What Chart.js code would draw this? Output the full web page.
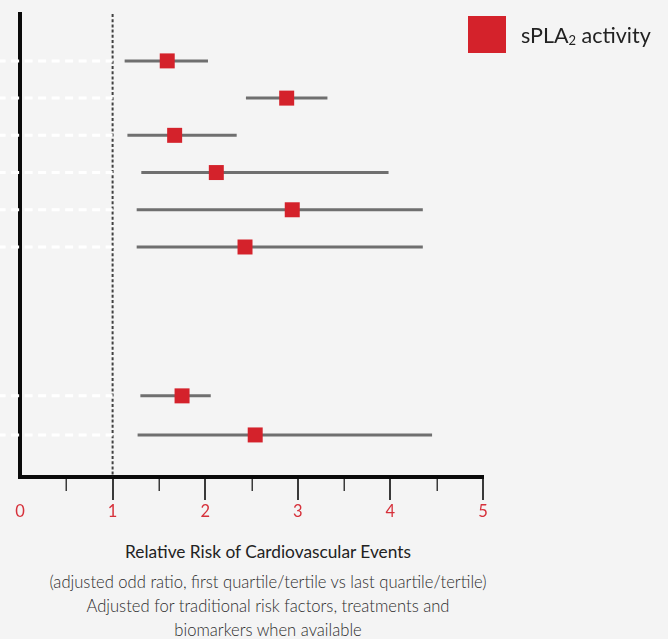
<!DOCTYPE html>
<html>
<head>
<meta charset="utf-8">
<script src="https://cdn.jsdelivr.net/npm/chart.js@4/dist/chart.umd.min.js"></script>
<style>
  html, body { margin: 0; padding: 0; background: #f4f4f4; }
  body { width: 668px; height: 639px; position: relative; overflow: hidden; font-family: Lato, "Open Sans", sans-serif; }
  #plot { position: absolute; left: 0; top: 0; }
  .legend { position: absolute; left: 468px; top: 16px; height: 37px; display: flex; align-items: center; }
  .legend .swatch { width: 38px; height: 37px; background: #d4222b; }
  .legend .label { margin-left: 15px; font-size: 21.5px; color: #222; }
  .legend sub { font-size: 13px; vertical-align: -2px; }
  .caption { position: absolute; left: 0; width: 536px; text-align: center; }
  .caption.title { top: 541px; font-size: 17.3px; color: #222; }
  .caption.note { top: 570px; font-size: 16.6px; color: #2c2c2c; font-weight: 300; line-height: 24px; }
</style>
</head>
<body>
<canvas id="plot" width="668" height="530"></canvas>
<div class="legend"><div class="swatch"></div><div class="label">sPLA<sub>2</sub> activity</div></div>
<div class="caption title">Relative Risk of Cardiovascular Events</div>
<div class="caption note">(adjusted odd ratio, first quartile/tertile vs last quartile/tertile)<br>Adjusted for traditional risk factors, treatments and<br>biomarkers when available</div>
<script>
// Vertical position of each study row (top to bottom), with a gap before the last two
const rowPos = [1, 2, 3, 4, 5, 6, 10, 11.05];
// Adjusted relative risk and its confidence interval for each row
const riskRatio = [1.59, 2.88, 1.67, 2.12, 2.94, 2.43, 1.75, 2.54];
const ciLow     = [1.13, 2.44, 1.16, 1.31, 1.26, 1.26, 1.30, 1.27];
const ciHigh    = [2.03, 3.32, 2.34, 3.98, 4.35, 4.35, 2.06, 4.45];
// Axis values
const xMin = 0, xMax = 5;
const yTop = -0.26, yBottom = 12.18;
const guideStart = -0.22;   // row guides start at the page edge
const nullEffect = 1;       // relative risk of 1 = no effect
const majorTicks = [0, 1, 2, 3, 4, 5];
const minorTicks = [0.5, 1.5, 2.5, 3.5, 4.5];

const RED = '#d4222b';
const GREY = '#6f6f6f';

const datasets = [];

// Markers for the point estimates (drawn on top)
datasets.push({
  type: 'scatter',
  order: 0,
  data: riskRatio.map((v, i) => ({ x: v, y: rowPos[i] })),
  pointStyle: 'rect',
  pointRadius: 10.6,
  pointHoverRadius: 10.6,
  backgroundColor: RED,
  borderWidth: 0
});

// Confidence interval bars
rowPos.forEach((y, i) => {
  datasets.push({
    type: 'line',
    order: 1,
    data: [{ x: ciLow[i], y }, { x: ciHigh[i], y }],
    borderColor: GREY,
    borderWidth: 3,
    pointRadius: 0,
    borderCapStyle: 'butt'
  });
});

// White dashed row guides on the left
rowPos.forEach((y) => {
  datasets.push({
    type: 'line',
    order: 2,
    clip: false,
    data: [{ x: guideStart, y }, { x: nullEffect, y }],
    borderColor: '#ffffff',
    borderWidth: 3,
    borderDash: [8, 5.5],
    borderDashOffset: 2,
    pointRadius: 0
  });
});

// Dotted line at relative risk = 1
datasets.push({
  type: 'line',
  order: 3,
  data: [{ x: nullEffect, y: yTop }, { x: nullEffect, y: yBottom }],
  borderColor: '#404040',
  borderWidth: 2,
  borderDash: [3, 2.2],
  pointRadius: 0
});

// Major and minor tick marks below the x axis
const tickMarks = {
  id: 'tickMarks',
  afterDraw(chart) {
    const { ctx, chartArea, scales } = chart;
    const x = scales.x;
    const base = chartArea.bottom + 2;
    ctx.save();
    ctx.strokeStyle = '#3a3a3a';
    ctx.lineWidth = 2;
    majorTicks.forEach(v => {
      if (v === xMin) return;
      const px = Math.round(x.getPixelForValue(v));
      ctx.beginPath(); ctx.moveTo(px, base); ctx.lineTo(px, chartArea.bottom + 23); ctx.stroke();
    });
    ctx.lineWidth = 1.5;
    minorTicks.forEach(v => {
      const px = Math.round(x.getPixelForValue(v)) + 0.25;
      ctx.beginPath(); ctx.moveTo(px, base); ctx.lineTo(px, chartArea.bottom + 14); ctx.stroke();
    });
    ctx.restore();
  }
};

new Chart(document.getElementById('plot'), {
  type: 'scatter',
  data: { datasets },
  options: {
    responsive: false,
    animation: false,
    devicePixelRatio: 1,
    layout: { padding: { left: 20, top: 14, right: 185, bottom: 0 } },
    plugins: { legend: { display: false }, tooltip: { enabled: false } },
    scales: {
      x: {
        type: 'linear',
        min: xMin, max: xMax,
        z: 1,
        afterFit(scale) { scale.height = 53; scale.paddingLeft = 0; scale.paddingRight = 0; },
        grid: { display: false, drawTicks: false },
        border: { display: true, color: '#0a0a0a', width: 4 },
        ticks: {
          stepSize: 1,
          padding: 25,
          color: '#d6303a',
          font: { family: 'Lato', size: 16.5 }
        }
      },
      y: {
        type: 'linear',
        min: yTop, max: yBottom,
        reverse: true,
        z: 1,
        afterFit(scale) { scale.width = 0; scale.paddingTop = 0; scale.paddingBottom = 0; },
        grid: { display: false, drawTicks: false },
        border: { display: true, color: '#0a0a0a', width: 4 },
        ticks: { display: false, padding: 0 }
      }
    }
  },
  plugins: [tickMarks]
});
</script>
</body>
</html>
